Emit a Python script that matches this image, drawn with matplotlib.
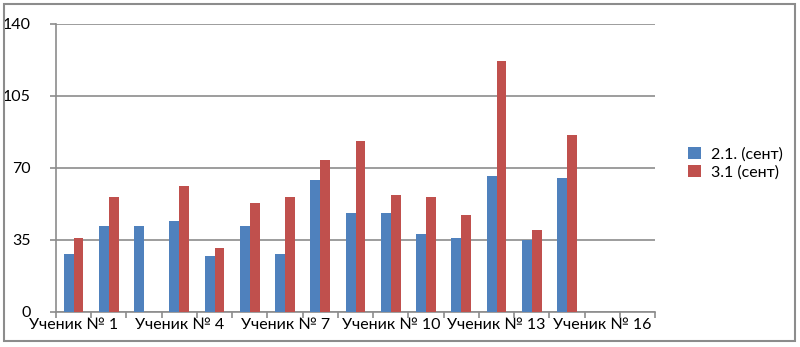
import matplotlib
matplotlib.use("Agg")
import matplotlib.pyplot as plt
import numpy as np
from matplotlib.patches import Rectangle

plt.rcParams['font.family'] = ['Lato', 'DejaVu Sans']

# data
students = ["Ученик № %d" % i for i in range(1, 18)]
sept_21 = [28, 42, 42, 44, 27, 42, 28, 64, 48, 48, 38, 36, 66, 35, 65, 0, 0]
sept_31 = [36, 56, 0, 61, 31, 53, 56, 74, 83, 57, 56, 47, 122, 40, 86, 0, 0]
series_names = ["2.1. (сент)", "3.1 (сент)"]
y_ticks = [0, 35, 70, 105, 140]

fig = plt.figure(figsize=(8, 3.47), dpi=100)
ax = fig.add_axes([0.07, 0.101, 0.749, 0.83])

x = np.arange(len(students))
w = 0.28
ax.bar(x - w / 2, sept_21, w, color="#4f81bd", label=series_names[0], zorder=3)
ax.bar(x + w / 2, sept_31, w, color="#c0504d", label=series_names[1], zorder=3)

ax.set_xlim(-0.5, len(students) - 0.5)
ax.set_ylim(0, 140)
ax.set_yticks(y_ticks)
ax.yaxis.grid(True, color="#8c8c8c", linewidth=1.2, zorder=0)
ax.tick_params(axis="y", length=4, width=1.2, color="#8c8c8c", pad=14, labelsize=11.5)

# category labels every third student, tick marks between categories
ax.set_xticks(x[::3])
ax.set_xticklabels(students[::3], fontsize=11.5)
ax.tick_params(axis="x", length=0, pad=4)
ax.set_xticks(np.arange(-0.5, len(students)), minor=True)
ax.tick_params(axis="x", which="minor", length=4, width=1.2, color="#8c8c8c")

for s in ["top", "right"]:
    ax.spines[s].set_visible(False)
for s in ["left", "bottom"]:
    ax.spines[s].set_color("#8c8c8c")
    ax.spines[s].set_linewidth(1.2)

ax.legend(loc="center left", bbox_to_anchor=(1.055, 0.517), frameon=False,
          fontsize=11.5, handlelength=0.8, handleheight=0.8, handletextpad=0.6,
          labelspacing=0.2, borderpad=0, borderaxespad=0)

fig.patches.append(Rectangle((0.005, 0.017), 0.989, 0.972, transform=fig.transFigure,
                             fill=False, edgecolor="#8c8c8c", linewidth=1.5))

fig.savefig("out.png", dpi=100)
